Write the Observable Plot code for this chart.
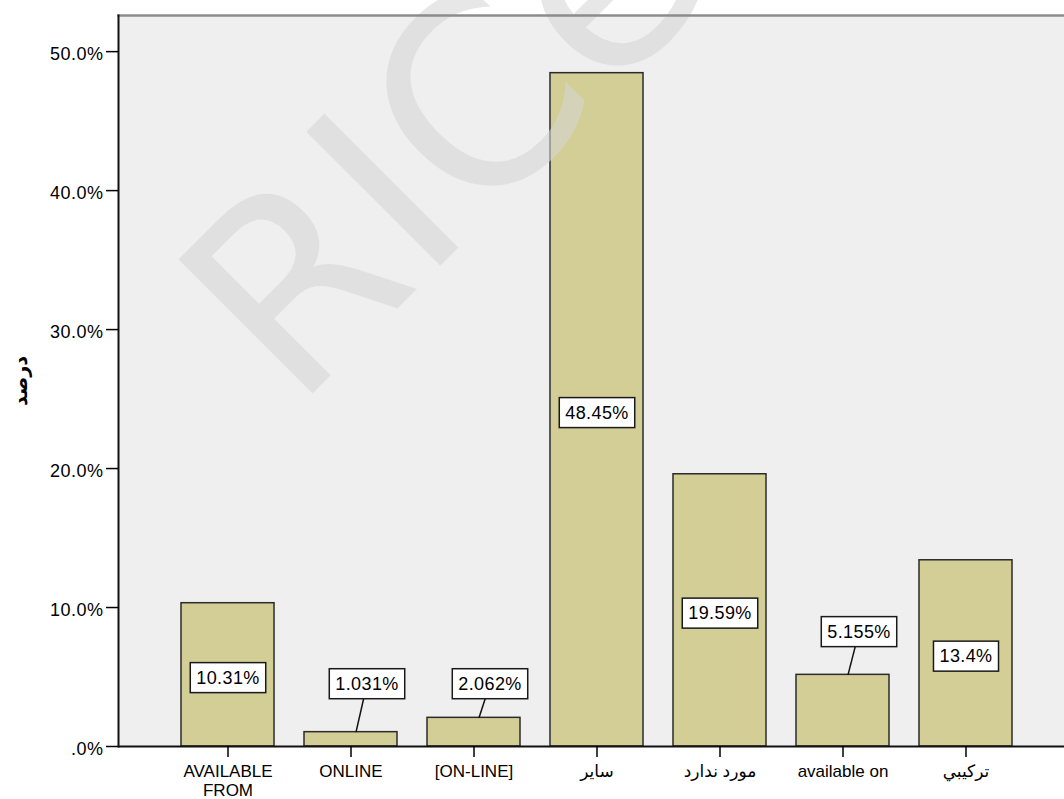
<!DOCTYPE html>
<html>
<head>
<meta charset="utf-8">
<script src="https://cdn.jsdelivr.net/npm/d3@7"></script>
<script src="https://cdn.jsdelivr.net/npm/@observablehq/plot@0.6"></script>
<style>
  html, body { margin: 0; padding: 0; background: #ffffff; }
  #chart svg { display: block; }
</style>
</head>
<body>
<div id="chart"></div>
<script>
// ---- data ----
const categories = ["AVAILABLE FROM", "ONLINE", "[ON-LINE]", "ساير", "مورد ندارد", "available on", "تركيبي"];
const percents = [10.31, 1.031, 2.062, 48.45, 19.59, 5.155, 13.4];
const valueLabels = ["10.31%", "1.031%", "2.062%", "48.45%", "19.59%", "5.155%", "13.4%"];
const yTicks = [0, 10, 20, 30, 40, 50];
const yTickLabels = [".0%", "10.0%", "20.0%", "30.0%", "40.0%", "50.0%"];
const yTitle = "درصد";
const watermark = "RICe";

// ---- derived table ----
const data = categories.map((c, i) => {
  const v = percents[i];
  const inside = v > 8;
  return {category: c, value: v, label: valueLabels[i], inside, ly: inside ? v / 2 : Math.max(4.5, v * 1.6)};
});

// leader line: slanted from bar top toward label box
function leaderCurve(context) {
  let i = 0;
  return {
    areaStart() {}, areaEnd() {},
    lineStart() { i = 0; },
    lineEnd() {},
    point(x, y) {
      if (i++ === 0) context.moveTo(x + 5, y);
      else context.lineTo(x + 16, y);
    }
  };
}

const font = "'Liberation Sans', Arial, 'DejaVu Sans', sans-serif";

const plot = Plot.plot({
  width: 1064,
  height: 799,
  marginTop: 15,
  marginBottom: 53,
  marginLeft: 118,
  marginRight: 0,
  style: {fontFamily: font, fontSize: "17px", color: "#000", background: "#ffffff"},
  x: {domain: categories, range: [165.5, 1026.5], paddingInner: 0.244, paddingOuter: 0.122, align: 0.5},
  y: {domain: [0, 52.6]},
  marks: [
    Plot.frame({fill: "#efefef", stroke: null}),
    Plot.barY(data, {x: "category", y: "value", fill: "#d3ce95", stroke: "#2b2b2b", strokeWidth: 1.5}),
    Plot.text([watermark], {
      text: d => d, frameAnchor: "top-left", dx: 176, dy: 396, rotate: -45,
      fontSize: 260, fontFamily: "'DejaVu Sans', sans-serif", fill: "#d6d6d6", fillOpacity: 0.58,
      textAnchor: "start", lineAnchor: "bottom"
    }),
    Plot.frame({anchor: "top", stroke: "#8c8c8c", strokeWidth: 2.5}),
    Plot.frame({anchor: "left", stroke: "#111", strokeWidth: 2}),
    Plot.ruleY([0], {stroke: "#111", strokeWidth: 2}),
    Plot.link(data.filter(d => !d.inside), {
      x1: "category", x2: "category", y1: "value", y2: "ly",
      stroke: "#111", strokeWidth: 1.5, curve: leaderCurve
    }),
    Plot.text(data.filter(d => d.inside), {
      x: "category", y: "ly", text: "label", dy: 3, fontSize: 18, fill: "#000"
    }),
    Plot.text(data.filter(d => !d.inside), {
      x: "category", y: "ly", text: "label", dx: 16, fontSize: 18, fill: "#000"
    }),
    Plot.axisY({ticks: yTicks, tickSize: 12, tickFormat: () => "", label: null, strokeWidth: 1.5}),
    Plot.axisY({
      ticks: yTicks, tickSize: 0, tickPadding: 15, dy: 3, label: null, fontSize: 18,
      tickFormat: d => yTickLabels[yTicks.indexOf(d)]
    }),
    Plot.axisX({
      tickSize: 11, tickPadding: 6, label: null, fontSize: 17, lineHeight: 1.12, strokeWidth: 1.5,
      tickFormat: d => d === "AVAILABLE FROM" ? "AVAILABLE\nFROM" : d
    }),
    Plot.text([yTitle], {
      text: d => d, frameAnchor: "left", dx: -98, rotate: -90, textAnchor: "middle",
      fontWeight: "bold", fontSize: 19, fill: "#000"
    })
  ]
});

document.getElementById("chart").append(plot);

// letter spacing on value labels and y tick labels
const labelSet = new Set(valueLabels);
const tickSet = new Set(yTickLabels);
const svgNS = "http://www.w3.org/2000/svg";
plot.querySelectorAll("text").forEach(t => {
  const s = t.textContent;
  if (tickSet.has(s)) t.setAttribute("letter-spacing", "0.5");
  if (!labelSet.has(s)) return;
  t.setAttribute("letter-spacing", "0.4");
  const b = t.getBBox();
  const r = document.createElementNS(svgNS, "rect");
  r.setAttribute("x", b.x - 6);
  r.setAttribute("y", b.y + b.height / 2 - 15);
  r.setAttribute("width", b.width + 12);
  r.setAttribute("height", 30);
  r.setAttribute("fill", "#ffffff");
  r.setAttribute("stroke", "#1a1a1a");
  r.setAttribute("stroke-width", 1.5);
  const tr = t.getAttribute("transform");
  if (tr) r.setAttribute("transform", tr);
  t.parentNode.insertBefore(r, t);
});
</script>
</body>
</html>
